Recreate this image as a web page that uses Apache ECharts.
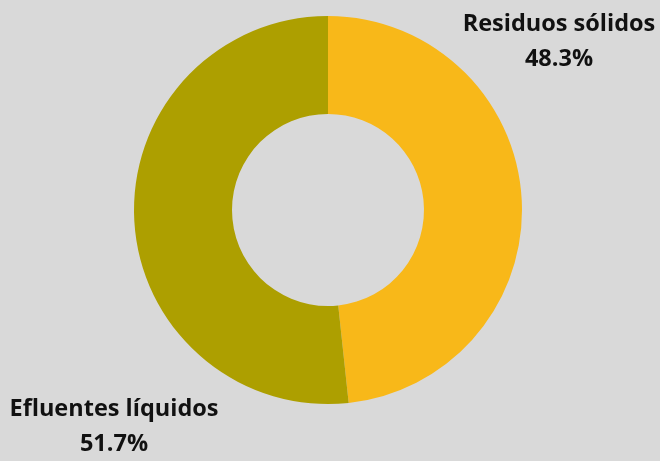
<!DOCTYPE html>
<html>
<head>
<meta charset="utf-8">
<script src="https://cdn.jsdelivr.net/npm/echarts@6/dist/echarts.min.js"></script>
<style>
  html, body { margin: 0; padding: 0; background: #d9d9d9; }
  #chart { width: 660px; height: 461px; }
</style>
</head>
<body>
<div id="chart"></div>
<script>
const categories = ['Residuos sólidos', 'Efluentes líquidos']
const values = [48.3, 51.7]
const colors = ['#f8b819', '#ad9f00']
// label anchor points (px)
const labelPos = [[559, 42], [114, 427]]

const chart = echarts.init(document.getElementById('chart'))
chart.setOption({
    backgroundColor: '#d9d9d9',
    series: [
        {
            type: 'pie',
            center: [328, 210],
            radius: [96, 194],
            startAngle: 90,
            clockwise: true,
            silent: true,
            data: categories.map((name, i) => ({
                name,
                value: values[i],
                itemStyle: { color: colors[i] },
            })),
            label: {
                show: true,
                position: 'outside',
                formatter: p => `${p.name}\n${p.value.toFixed(1)}%`,
                color: '#111',
                fontFamily: 'Open Sans',
                fontWeight: 'bold',
                fontSize: 23.5,
                lineHeight: 35,
                align: 'center',
                overflow: 'none',
                width: 300,
            },
            labelLine: { show: false },
            labelLayout: params => ({
                x: labelPos[params.dataIndex][0],
                y: labelPos[params.dataIndex][1],
                align: 'center',
                verticalAlign: 'middle',
            }),
        },
    ],
})
</script>
</body>
</html>
